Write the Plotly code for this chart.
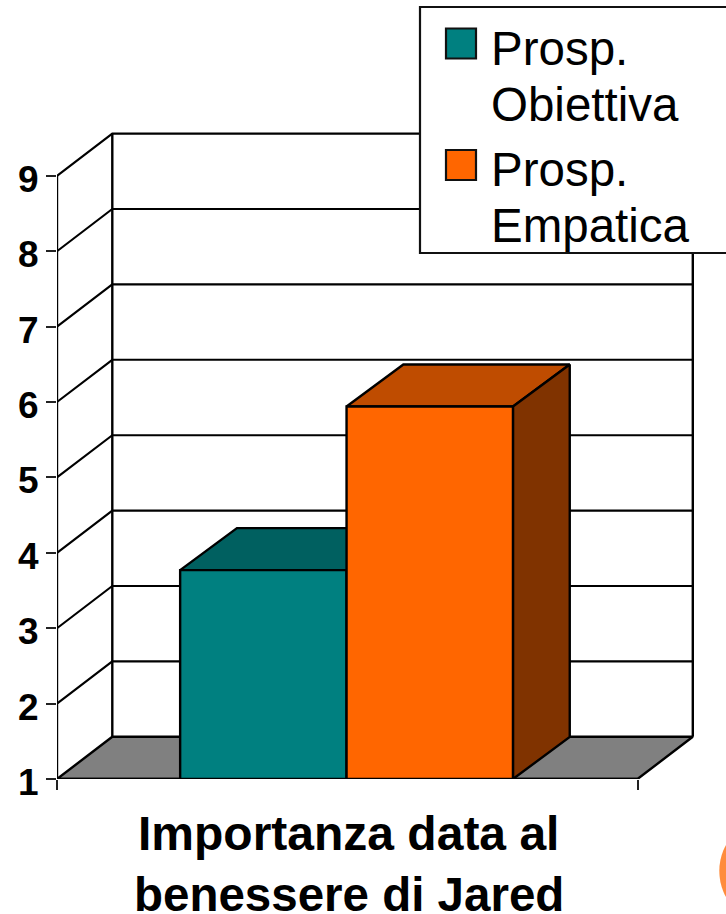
import plotly.graph_objects as go

# Chart data
series_names = [["Prosp.", "Obiettiva"], ["Prosp.", "Empatica"]]
series_values = [3.77, 5.94]
front_colors = ["#008080", "#FF6600"]
top_colors = ["#006060", "#BF4C00"]
side_colors = ["#006060", "#803300"]
y_ticks = [1, 2, 3, 4, 5, 6, 7, 8, 9]
title_lines = ["Importanza data al", "benessere di Jared"]

# Page and plot-area layout, in pixels
WIDTH, HEIGHT = 726, 914
LEFT, BASE = 57, 779
UNIT_X, UNIT_Y = 580.5, 75.4

# Oblique projection offsets in axis units
WALL_DX, WALL_DY = 55.3 / UNIT_X, 42.2 / UNIT_Y
BAR_DX, BAR_DY = 56.8 / UNIT_X, 42.0 / UNIT_Y
BAR_W = 166.4 / UNIT_X
BAR_START = 0.4988 - BAR_W
FLOOR = y_ticks[0]
CEIL = y_ticks[-1]
INK = "#000000"
FONT = "Liberation Sans, Arial, sans-serif"


def paper_x(px):
    return (px - LEFT) / (WIDTH - LEFT)


def paper_y(px):
    return (BASE - px) / BASE


def outline(xs, ys, width=2.4):
    return go.Scatter(x=xs, y=ys, mode="lines", cliponaxis=False, showlegend=False,
                      hoverinfo="skip", line=dict(color=INK, width=width))


def polygon(xs, ys, color, width=2.4):
    return go.Scatter(x=xs + xs[:1], y=ys + ys[:1], mode="lines", fill="toself", fillcolor=color,
                      cliponaxis=False, showlegend=False, hoverinfo="skip",
                      line=dict(color=INK, width=width))


fig = go.Figure()

# Floor of the box
fig.add_trace(polygon([0, 1, 1 + WALL_DX, WALL_DX],
                      [FLOOR, FLOOR, FLOOR + WALL_DY, FLOOR + WALL_DY], "#808080"))

# Gridlines running along the side wall and the back wall
for v in y_ticks[1:]:
    fig.add_trace(outline([0, WALL_DX, 1 + WALL_DX], [v, v + WALL_DY, v + WALL_DY], 2.1))

# Box edges and the front axis lines
fig.add_trace(outline([WALL_DX, WALL_DX], [FLOOR + WALL_DY, CEIL + WALL_DY]))
fig.add_trace(outline([1 + WALL_DX, 1 + WALL_DX], [FLOOR + WALL_DY, CEIL + WALL_DY]))
fig.add_trace(outline([0, 0], [FLOOR, CEIL]))
fig.add_trace(outline([0, 1], [FLOOR, FLOOR], 2.6))

# Extruded bars
for i, value in enumerate(series_values):
    x0 = BAR_START + i * BAR_W
    x1 = x0 + BAR_W
    fig.add_trace(polygon([x0, x1, x1 + BAR_DX, x0 + BAR_DX],
                          [value, value, value + BAR_DY, value + BAR_DY], top_colors[i]))
    fig.add_trace(polygon([x1, x1 + BAR_DX, x1 + BAR_DX, x1],
                          [FLOOR, FLOOR + BAR_DY, value + BAR_DY, value], side_colors[i]))
    fig.add_trace(polygon([x0, x1, x1, x0], [FLOOR, FLOOR, value, value], front_colors[i]))

annotations = []
shapes = [
    # Decorative disc at the page corner
    dict(type="circle", xref="paper", yref="paper", layer="below",
         x0=paper_x(719.3), x1=paper_x(827), y0=paper_y(817), y1=paper_y(925),
         fillcolor="#FF8C3C", line=dict(width=0)),
    # Legend frame
    dict(type="rect", xref="paper", yref="paper", layer="above",
         x0=paper_x(420), x1=paper_x(760), y0=paper_y(7), y1=paper_y(253),
         fillcolor="#FFFFFF", line=dict(color="#111111", width=2.2)),
]

# Legend entries
swatch_tops = [28.5, 150]
baselines = [[64, 120], [185, 241]]
for i, lines in enumerate(series_names):
    top = swatch_tops[i]
    shapes.append(dict(type="rect", xref="paper", yref="paper", layer="above",
                       x0=paper_x(446), x1=paper_x(476), y0=paper_y(top), y1=paper_y(top + 30),
                       fillcolor=front_colors[i], line=dict(color="#111111", width=2.2)))
    for text, baseline in zip(lines, baselines[i]):
        annotations.append(dict(text=text, xref="paper", yref="paper", showarrow=False,
                                x=paper_x(489.5), y=paper_y(baseline - 16), xanchor="left",
                                yanchor="middle", borderpad=0, align="left",
                                font=dict(family=FONT, size=47.5, color="#000000")))

# Category caption below the floor
for text, baseline, size in zip(title_lines, [849.5, 910], [48, 47.5]):
    annotations.append(dict(text=text, xref="paper", yref="paper", showarrow=False,
                            x=paper_x(348.5), y=paper_y(baseline - 16), xanchor="center",
                            yanchor="middle", borderpad=0,
                            font=dict(family=FONT, size=size, color="#000000", weight="bold")))

fig.update_layout(
    width=WIDTH, height=HEIGHT,
    margin=dict(l=LEFT, r=0, t=0, b=HEIGHT - BASE, pad=0),
    paper_bgcolor="#FFFFFF", plot_bgcolor="#FFFFFF",
    showlegend=False, shapes=shapes, annotations=annotations,
    xaxis=dict(range=[0, (WIDTH - LEFT) / UNIT_X], tickmode="array", tickvals=[0, 1],
               showticklabels=False, ticks="outside", ticklen=10, tickwidth=1.6, tickcolor="#222222",
               showgrid=False, zeroline=False, showline=False, fixedrange=True),
    yaxis=dict(range=[FLOOR, FLOOR + BASE / UNIT_Y], tickmode="array", tickvals=y_ticks,
               ticktext=[str(v) for v in y_ticks], ticks="outside", ticklen=10, tickwidth=1.6,
               tickcolor="#222222", ticklabelstandoff=0, ticklabelshift=3,
               tickfont=dict(family=FONT, size=37, color="#000000", weight="bold"),
               showgrid=False, zeroline=False, showline=False, fixedrange=True),
)

fig.write_html("out.html", config=dict(displayModeBar=False))
